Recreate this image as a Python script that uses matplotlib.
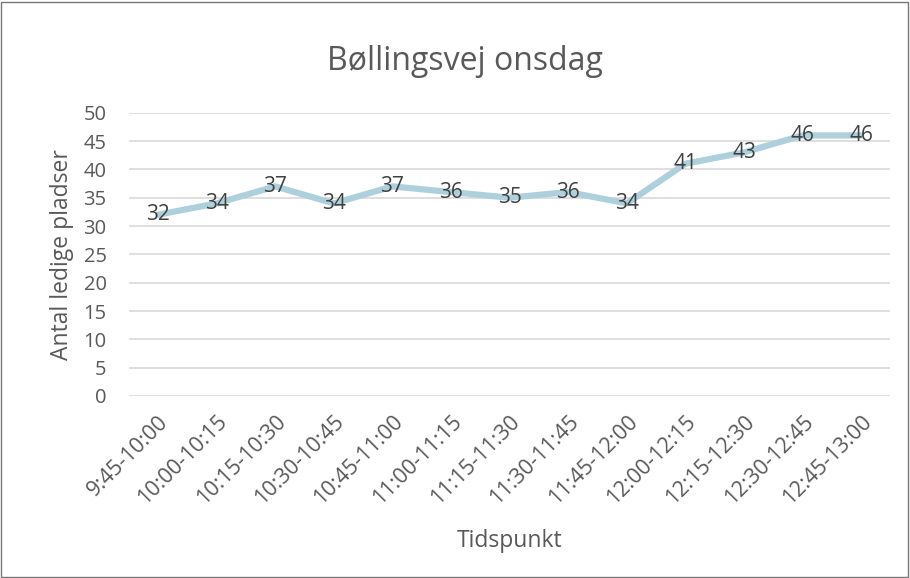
import matplotlib.pyplot as plt
from matplotlib.patches import Rectangle

# time slots and number of free parking spaces
tidspunkter = ["9:45-10:00", "10:00-10:15", "10:15-10:30", "10:30-10:45",
               "10:45-11:00", "11:00-11:15", "11:15-11:30", "11:30-11:45",
               "11:45-12:00", "12:00-12:15", "12:15-12:30", "12:30-12:45",
               "12:45-13:00"]
ledige = [32, 34, 37, 34, 37, 36, 35, 36, 34, 41, 43, 46, 46]
y_ticks = list(range(0, 51, 5))

plt.rcParams["font.family"] = ["Open Sans", "DejaVu Sans"]
grey = "#595959"

fig = plt.figure(figsize=(9.1, 5.78), dpi=100)
ax = fig.add_axes([0.1415, 0.3149, 0.837, 0.490])

x = list(range(len(tidspunkter)))
ax.plot(x, ledige, color="#ADD0DC", linewidth=4.5, solid_capstyle="round", zorder=3)

# data labels sit on the points
for xi, v in zip(x, ledige):
    ax.text(xi, v, str(v), ha="center", va="center", fontsize=15, color="#404040", zorder=4)

ax.set_xlim(-0.5, len(tidspunkter) - 0.5)
ax.set_ylim(0, 50)
ax.set_yticks(y_ticks)
ax.set_xticks(x)
ax.set_xticklabels(tidspunkter, rotation=45, ha="right", rotation_mode="anchor")
ax.tick_params(axis="both", length=0, colors=grey)
ax.tick_params(axis="y", pad=16, labelsize=14.5)
ax.tick_params(axis="x", pad=11, labelsize=15.5)
ax.grid(axis="y", color="#D9D9D9", linewidth=1.2)
ax.set_axisbelow(True)
for s in ax.spines.values():
    s.set_visible(False)

ax.set_ylabel("Antal ledige pladser", fontsize=16.5, color=grey, labelpad=7)
fig.text(0.5605, 0.064, "Tidspunkt", ha="center", va="center", fontsize=16.5, color=grey)
fig.text(0.511, 0.893, "Bøllingsvej onsdag", ha="center", va="center", fontsize=23, color=grey)

# chart border
fig.patches.append(Rectangle((0.001, 0.002), 0.997, 0.995, transform=fig.transFigure,
                             fill=False, edgecolor="#767676", linewidth=1))

fig.savefig("out.png", dpi=100)
